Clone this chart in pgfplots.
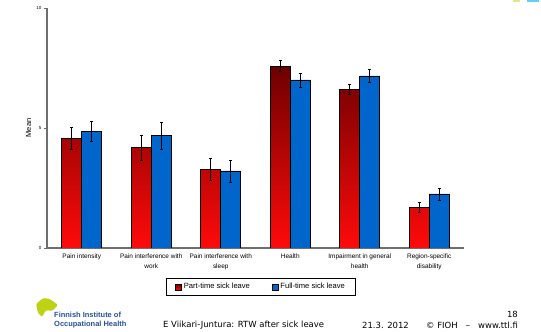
\documentclass[border=0pt]{standalone}
\usepackage{pgfplots}
\pgfplotsset{compat=1.18}
\usepackage{fontspec}
\setmainfont{Liberation Sans}
\newfontfamily\footfont{DejaVu Sans}
\definecolor{partdark}{RGB}{110,0,0}
\definecolor{partlight}{RGB}{255,10,10}
\definecolor{fullblue}{RGB}{0,102,204}
\definecolor{logogreen}{RGB}{190,210,20}
\definecolor{logoblue}{RGB}{40,80,160}
\definecolor{axgray}{RGB}{110,110,110}
\pgfplotstableread{
x part perr full ferr
0 4.57 0.46 4.85 0.42
1 4.19 0.52 4.68 0.55
2 3.28 0.47 3.21 0.45
3 7.58 0.23 7.00 0.29
4 6.61 0.22 7.17 0.27
5 1.69 0.20 2.25 0.25
}\datatable
\begin{document}
\begin{tikzpicture}
\path[use as bounding box] (0bp,0bp) rectangle (541bp,332bp);
\begin{axis}[
  at={(47bp,84bp)}, anchor=south west,
  scale only axis, width=417bp, height=240bp,
  xmin=-0.5, xmax=5.5, ymin=0, ymax=10,
  axis lines*=left,
  axis line style={axgray, line width=1.1bp},
  ytick={0,5,10},
  ytick style={axgray, line width=0.7bp},
  tick align=outside,
  major tick length=3bp,
  yticklabel style={font=\fontsize{4.5}{5}\selectfont, xshift=1bp},
  xtick={0,...,5},
  xticklabels={Pain intensity,Pain interference with\\work,Pain interference with\\sleep,Health,Impairment in general\\health,Region-specific\\disability},
  xtick style={draw=none},
  minor xtick={-0.5,0.5,1.5,2.5,3.5,4.5,5.5},
  minor tick length=4bp,
  minor tick style={black, line width=0.7bp},
  xticklabel style={font=\fontsize{6.5}{10}\selectfont, align=center, yshift=1bp},
  /pgf/number format/assume math mode=true,
  ylabel={Mean},
  ylabel style={font=\fontsize{7.5}{8}\selectfont, anchor=center, at={(axis description cs:-0.044,0.5)}},
  ybar=0pt, bar width=20bp,
  legend columns=2,
  legend style={at={(0.5134,-0.1625)}, anchor=center, draw=black, line width=0.8bp,
    font=\fontsize{7.6}{9}\selectfont, inner xsep=9bp, inner ysep=3bp,
    /tikz/every even column/.append style={column sep=20bp}},
  legend image code/.code={\draw[#1, line width=0.5bp] (0bp,-3bp) rectangle (6bp,3bp);},
]
\addplot[draw=black, line width=0.8bp, top color=partdark, bottom color=partlight,
  error bars/.cd, y dir=both, y explicit, error bar style={black, line width=0.7bp}, error mark options={black, rotate=90, mark size=1.5bp}]
  table[x=x, y=part, y error=perr] {\datatable};
\addlegendentry{Part-time sick leave}
\addplot[draw=black, line width=0.8bp, fill=fullblue,
  error bars/.cd, y dir=both, y explicit, error bar style={black, line width=0.7bp}, error mark options={black, rotate=90, mark size=1.5bp}]
  table[x=x, y=full, y error=ferr] {\datatable};
\addlegendentry{Full-time sick leave}
\end{axis}
% logo bottom left
\fill[logogreen, rounded corners=1.5bp] (36bp,28bp) -- (43bp,34bp) -- (50bp,33bp) -- (58bp,27bp) -- (52bp,21bp) -- (46bp,22bp) -- (42bp,15bp) -- (38bp,19bp) -- cycle;
\node[anchor=west, text=logoblue, font=\fontsize{7.5}{7}\selectfont\bfseries, inner sep=0] at (54bp,17bp) {Finnish Institute of};
\node[anchor=west, text=logoblue, font=\fontsize{7.5}{7}\selectfont\bfseries, inner sep=0] at (54bp,7bp) {Occupational Health};
% small partial logo top right
\fill[logogreen!50] (513bp,330bp) rectangle (520bp,332bp);
\fill[cyan!60] (527bp,330bp) rectangle (539bp,332bp);
% footer
\node[anchor=west, inner sep=0, font=\footfont\fontsize{8.5}{9}\selectfont] at (163bp,6.5bp) {E Viikari-Juntura: RTW after sick leave};
\node[anchor=west, inner sep=0, font=\footfont\fontsize{8.5}{9}\selectfont] at (362bp,6.5bp) {21.3. 2012};
\node[anchor=west, inner sep=0, font=\footfont\fontsize{8.5}{9}\selectfont] at (426bp,6.5bp) {© FIOH \ \ – \ \ www.ttl.fi};
\node[anchor=east, inner sep=0, font=\footfont\fontsize{8.5}{9}\selectfont] at (518bp,18bp) {18};
\end{tikzpicture}
\end{document}
